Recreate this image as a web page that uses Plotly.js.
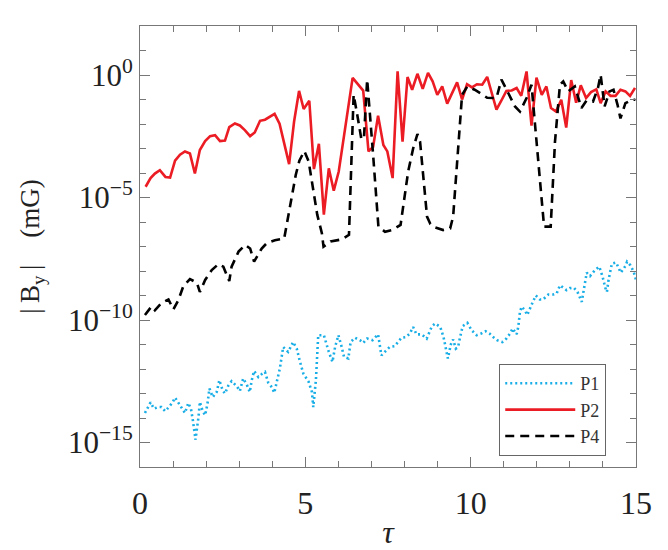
<!DOCTYPE html>
<html>
<head>
<meta charset="utf-8">
<script src="https://cdn.plot.ly/plotly-3.0.1.min.js"></script>
<style>html,body{margin:0;padding:0;background:#fff;}#chart{width:668px;height:550px;}</style>
</head>
<body>
<div id="chart"></div>
<script>
const seriesNames = ["P1", "P2", "P4"];

const p1Tau = [0.15,0.25,0.32,0.42,0.55,0.65,0.76,0.89,0.99,1.06,1.16,1.26,1.36,1.46,1.54,1.60,1.64,1.68,1.72,1.77,1.81,1.89,1.97,2.04,2.10,2.20,2.32,2.40,2.50,2.57,2.67,2.77,2.93,3.02,3.12,3.23,3.32,3.38,3.45,3.58,3.70,3.78,3.88,3.99,4.06,4.14,4.23,4.33,4.48,4.63,4.74,4.84,4.94,5.10,5.20,5.24,5.32,5.39,5.56,5.71,5.82,5.90,6.00,6.10,6.17,6.30,6.37,6.50,6.65,6.75,6.87,7.03,7.20,7.30,7.45,7.55,7.70,7.80,7.91,8.04,8.16,8.26,8.36,8.52,8.67,8.83,8.93,9.08,9.18,9.28,9.31,9.40,9.47,9.55,9.62,9.68,9.76,9.90,10.03,10.18,10.32,10.45,10.57,10.68,10.80,10.96,11.08,11.19,11.27,11.39,11.44,11.49,11.54,11.64,11.71,11.84,11.97,12.09,12.19,12.35,12.50,12.60,12.70,12.80,12.90,13.00,13.12,13.23,13.31,13.36,13.41,13.46,13.51,13.61,13.76,13.89,13.99,14.07,14.12,14.17,14.22,14.27,14.40,14.47,14.54,14.68,14.73,14.83,14.93,15.00];
const p1By = [1.6e-14,2.8e-14,4.3e-14,2.4e-14,2.8e-14,2.8e-14,1.9e-14,2.95e-14,4.5e-14,6.8e-14,4.1e-14,2.5e-14,1.6e-14,4.1e-14,2.4e-14,7.9e-15,2.6e-15,1.3e-15,3.6e-15,1.1e-14,4.5e-14,2.0e-14,1.3e-14,3.8e-14,1.6e-13,7.1e-14,1.15e-13,3.5e-13,1.35e-13,1.0e-13,2.1e-13,3.2e-13,1.95e-13,1.26e-13,4.1e-13,2.3e-13,1.15e-13,3.5e-13,8.3e-13,4.7e-13,6.5e-13,7.6e-13,2.7e-13,1.8e-13,1.07e-13,3.5e-13,1.05e-12,7.9e-12,5.0e-12,1.26e-11,6.8e-12,1.95e-12,6.5e-13,3.0e-13,1.15e-13,2.8e-14,3.5e-13,2.4e-11,2.4e-11,5.0e-12,1.95e-12,7.9e-12,2.4e-11,7.9e-12,3.1e-12,2.7e-12,1.26e-11,1.9e-11,1.5e-11,1.15e-11,1.75e-11,1.5e-11,2.6e-11,3.6e-12,5.8e-12,7.9e-12,8.5e-12,1.26e-11,1.9e-11,2.0e-11,2.8e-11,5.2e-11,2.6e-11,2.6e-11,1.75e-11,5.6e-11,7.2e-11,5.2e-11,2.0e-11,4.3e-12,2.7e-12,1.0e-11,1.6e-11,6.8e-12,7.9e-12,2.0e-11,5.6e-11,7.6e-11,3.8e-11,2.4e-11,2.8e-11,3.5e-11,2.8e-11,2.0e-11,1.5e-11,1.26e-11,1.75e-11,2.8e-11,4.5e-11,2.6e-11,5.2e-11,2.1e-10,3.5e-10,2.5e-10,1.6e-10,4.1e-10,1.0e-9,6.9e-10,6.9e-10,1.1e-9,1.1e-9,1.2e-9,2.6e-9,2.1e-9,1.66e-9,2.0e-9,2.1e-9,1.4e-9,7.6e-10,5.5e-10,1.4e-9,3.6e-9,8.5e-9,6.2e-9,1.1e-8,1.5e-8,5.8e-9,2.1e-9,1.4e-9,4.3e-9,1.1e-8,2.0e-8,2.2e-8,1.3e-8,8.5e-9,1.6e-8,2.4e-8,1.7e-8,9.3e-9,4.3e-9];

const p2Tau = [0.17,0.32,0.45,0.60,0.77,0.91,1.06,1.21,1.36,1.51,1.66,1.81,1.97,2.12,2.27,2.42,2.57,2.70,2.87,3.02,3.17,3.33,3.47,3.63,3.78,3.94,4.07,4.22,4.36,4.51,4.66,4.81,4.95,5.12,5.26,5.41,5.56,5.71,5.86,6.01,6.43,6.75,6.91,7.05,7.20,7.36,7.48,7.64,7.79,7.94,8.09,8.23,8.39,8.55,8.71,8.85,8.99,9.14,9.29,9.44,9.59,9.74,9.89,10.04,10.19,10.35,10.50,10.64,10.78,10.93,11.08,11.24,11.39,11.53,11.69,11.84,11.99,12.15,12.29,12.43,12.58,12.74,12.89,13.04,13.19,13.33,13.49,13.64,13.80,13.93,14.08,14.23,14.38,14.53,14.68,14.82,14.97];
const p2By = [2.75e-5,6.2e-5,9.5e-5,1.3e-4,6.9e-5,6.5e-5,3.2e-4,5.6e-4,7.6e-4,6.3e-4,9.5e-5,8.7e-4,2.0e-3,3.2e-3,3.5e-3,2.0e-3,2.1e-3,7.4e-3,1.05e-2,8.7e-3,5.6e-3,3.2e-3,4.5e-3,1.35e-2,1.5e-2,1.95e-2,2.6e-2,1.02e-2,1.66e-3,2.3e-4,1.26e-2,0.224,4.1e-2,8.9e-2,1.45e-4,1.55e-3,2.0e-6,1.55e-4,1.9e-5,1.15e-4,0.76,0.23,7.6e-4,1.17e-3,2.2e-2,1.4e-3,7.6e-4,6.2e-5,1.4,1.9e-3,0.83,0.25,1.12,0.27,1.23,0.55,0.155,0.34,0.068,0.18,0.5,0.1,0.42,0.31,0.42,0.4,0.83,0.18,0.039,0.091,0.224,0.234,0.295,0.141,1.4,8.5e-3,0.78,0.155,0.34,0.045,0.032,0.098,7.2e-3,0.62,0.074,0.38,0.115,0.2,0.257,0.071,0.214,0.141,0.141,0.25,0.214,0.141,0.295];

const p4Tau = [0.15,0.35,0.45,0.65,0.86,1.01,1.16,1.31,1.51,1.72,1.81,1.97,2.17,2.37,2.52,2.70,2.77,2.98,3.18,3.33,3.45,3.68,3.83,4.08,4.36,4.71,4.82,4.97,5.10,5.36,5.50,5.55,5.76,6.10,6.32,6.46,6.57,6.69,6.77,6.87,7.05,7.21,7.41,7.63,7.88,8.11,8.26,8.39,8.47,8.68,8.78,8.93,9.17,9.38,9.47,9.74,9.90,10.12,10.35,10.50,10.78,10.93,11.14,11.34,11.49,11.69,11.84,12.22,12.42,12.55,12.70,12.80,12.95,13.15,13.35,13.50,13.70,13.85,13.93,14.05,14.20,14.32,14.44,14.53,14.68,14.88,14.98];
const p4By = [1.6e-10,3.6e-10,2.5e-10,5.0e-10,6.9e-10,2.7e-10,6.5e-10,2.4e-9,4.7e-9,3.3e-9,1.4e-9,4.3e-9,1.1e-8,1.9e-8,1.5e-8,3.9e-9,1.5e-8,6.2e-8,1.15e-7,8.3e-8,2.4e-8,8.3e-8,1.35e-7,1.8e-7,2.1e-7,8.3e-5,3.2e-4,7.9e-4,3.0e-4,2.0e-6,3.5e-7,9.8e-8,1.6e-7,1.95e-7,3.0e-7,0.155,2.4e-2,2.6e-3,2.4e-3,0.65,5.5e-4,6.5e-7,4.0e-7,4.7e-7,7.6e-7,1.15e-4,1.0e-3,3.9e-3,1.9e-3,1.66e-6,8.3e-7,6.0e-7,4.7e-7,5.5e-7,1.66e-6,0.155,0.34,0.25,0.16,0.117,0.115,0.65,0.18,0.052,0.032,0.115,0.4,6.5e-7,6.5e-7,1.9e-3,0.4,0.55,0.214,0.34,0.045,0.09,0.083,0.295,1.02,0.052,0.214,0.25,0.062,0.017,0.071,0.098,0.098];

const xTickVals = [0, 5, 10, 15];
const xTickText = ["0", "5", "10", "15"];
const yTickVals = [1, 1e-5, 1e-10, 1e-15];
const yTickText = ["10<sup>0</sup>", "10<sup>\u22125</sup>", "10<sup>\u221210</sup>", "10<sup>\u221215</sup>"];
const yMinorVals = [1e-16,1e-14,1e-13,1e-12,1e-11,1e-9,1e-8,1e-7,1e-6,1e-4,1e-3,1e-2,1e-1,10,100];

const FONT = "Liberation Serif";
const AX = "#777777";

const traces = [
  {x: p1Tau, y: p1By, name: seriesNames[0], type: "scatter", mode: "lines",
   line: {color: "#19aee6", width: 2.6, dash: "2px,3px"}},
  {x: p2Tau, y: p2By, name: seriesNames[1], type: "scatter", mode: "lines",
   line: {color: "#ec1c24", width: 2.6}},
  {x: p4Tau, y: p4By, name: seriesNames[2], type: "scatter", mode: "lines",
   line: {color: "#000000", width: 2.6, dash: "9px,6px"}}
];

const layout = {
  width: 668, height: 550,
  margin: {l: 140, r: 32, t: 26, b: 83},
  paper_bgcolor: "#ffffff", plot_bgcolor: "#ffffff",
  font: {family: FONT, color: "#222222"},
  showlegend: true,
  legend: {
    x: 0.94, y: 0.025, xanchor: "right", yanchor: "bottom",
    bgcolor: "#ffffff", bordercolor: "#666666", borderwidth: 1,
    font: {family: FONT, size: 18, color: "#333333"},
    itemwidth: 70,
    tracegroupgap: 0
  },
  xaxis: {
    range: [0, 15], tickmode: "array", tickvals: xTickVals, ticktext: xTickText,
    ticks: "inside", ticklen: 10, tickwidth: 1, tickcolor: AX,
    minor: {dtick: 1, ticks: "inside", ticklen: 6, tickcolor: AX, tickwidth: 1, showgrid: false},
    showline: true, linecolor: AX, linewidth: 1, mirror: "ticks",
    showgrid: false, zeroline: false,
    tickfont: {family: FONT, size: 32, color: "#222222"},
    ticklabelstandoff: 8,
    title: {text: "<i>\u03c4</i>", font: {family: FONT, size: 32, color: "#222222"}, standoff: 14}
  },
  yaxis: {
    type: "log", range: [-16, 2], tickmode: "array", tickvals: yTickVals, ticktext: yTickText,
    ticks: "inside", ticklen: 10, tickwidth: 1, tickcolor: AX,
    minor: {tickmode: "array", tickvals: yMinorVals, ticks: "inside", ticklen: 6, tickcolor: AX, tickwidth: 1, showgrid: false},
    showline: true, linecolor: AX, linewidth: 1, mirror: "ticks",
    showgrid: false, zeroline: false,
    tickfont: {family: FONT, size: 31, color: "#222222"},
    ticklabelstandoff: 0,
    title: {text: "|\u2009B<sub>y</sub>\u2009|\u2003(mG)", font: {family: FONT, size: 27, color: "#222222"}, standoff: 20}
  }
};

Plotly.newPlot("chart", traces, layout, {staticPlot: true, displayModeBar: false});
</script>
</body>
</html>
